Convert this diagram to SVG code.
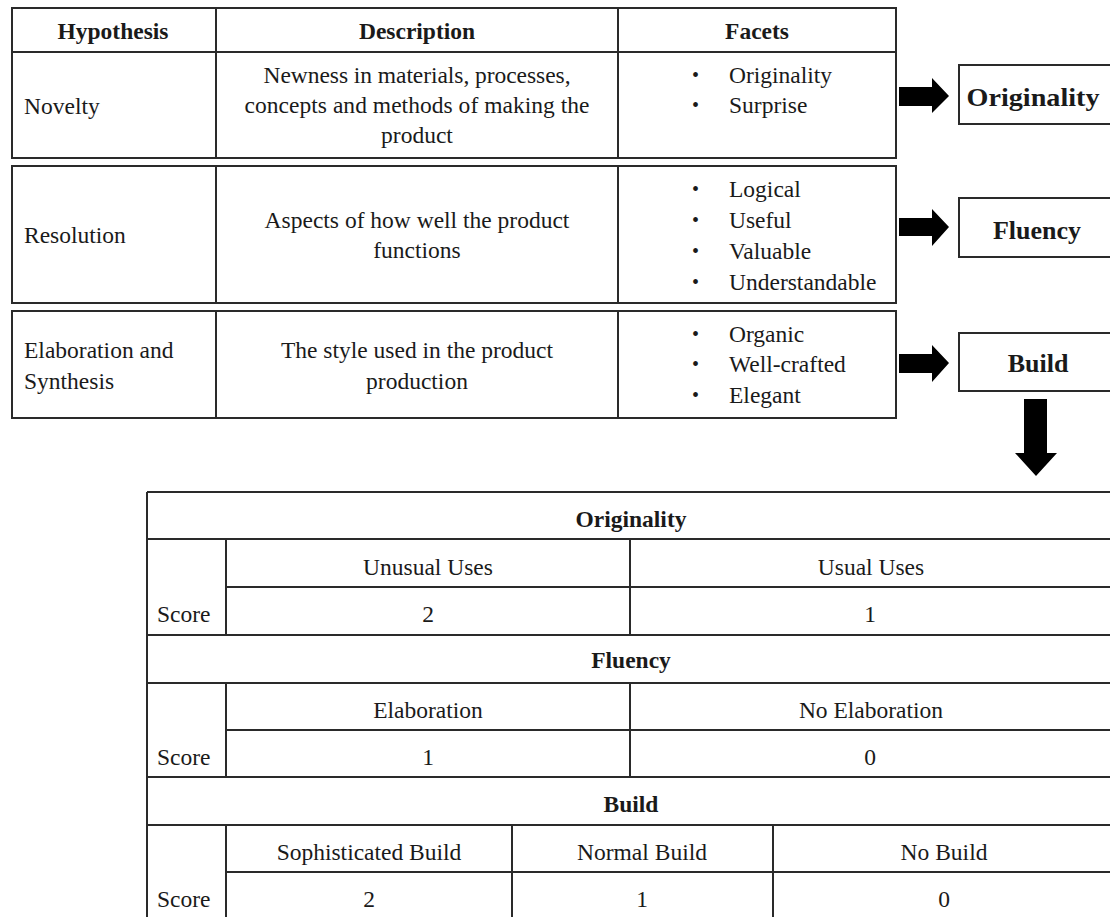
<svg xmlns="http://www.w3.org/2000/svg" width="1110" height="917" viewBox="0 0 1110 917">
<style>
.b{fill:none;stroke:#2a2a2a;stroke-width:2}
.l{stroke:#2a2a2a;stroke-width:2}
text{font-family:"Liberation Serif","Times New Roman",serif;font-size:23.5px;fill:#1a1a1a}
.h{font-weight:bold}
.c{text-anchor:middle}
.big{font-weight:bold;font-size:26px;text-anchor:middle}
.ar{fill:#000}
.d{font-size:20px}
</style>
<rect width="1110" height="917" fill="#fff"/>
<g id="row-header-novelty">
<rect class="b" x="12" y="8" width="884" height="150"/>
<line class="l" x1="12" y1="52" x2="896" y2="52"/>
<line class="l" x1="216" y1="8" x2="216" y2="158"/>
<line class="l" x1="618" y1="8" x2="618" y2="158"/>
<text class="h c" x="113" y="39">Hypothesis</text>
<text class="h c" x="417" y="39">Description</text>
<text class="h c" x="757" y="39">Facets</text>
<text x="24" y="114">Novelty</text>
<text class="c" x="417" y="83" textLength="307" lengthAdjust="spacing">Newness in materials, processes,</text>
<text class="c" x="417" y="113" textLength="345" lengthAdjust="spacing">concepts and methods of making the</text>
<text class="c" x="417" y="143">product</text>
<text class="d" x="692" y="82">•</text><text x="729" y="83">Originality</text>
<text class="d" x="692" y="112">•</text><text x="729" y="113">Surprise</text>
</g>
<g id="row-resolution">
<rect class="b" x="12" y="166" width="884" height="137"/>
<line class="l" x1="216" y1="166" x2="216" y2="303"/>
<line class="l" x1="618" y1="166" x2="618" y2="303"/>
<text x="24" y="243">Resolution</text>
<text class="c" x="417" y="228">Aspects of how well the product</text>
<text class="c" x="417" y="258">functions</text>
<text class="d" x="692" y="196">•</text><text x="729" y="197">Logical</text>
<text class="d" x="692" y="227">•</text><text x="729" y="228">Useful</text>
<text class="d" x="692" y="258">•</text><text x="729" y="259">Valuable</text>
<text class="d" x="692" y="289">•</text><text x="729" y="290">Understandable</text>
</g>
<g id="row-elaboration">
<rect class="b" x="12" y="311" width="884" height="107"/>
<line class="l" x1="216" y1="311" x2="216" y2="418"/>
<line class="l" x1="618" y1="311" x2="618" y2="418"/>
<text x="24" y="358">Elaboration and</text>
<text x="24" y="389">Synthesis</text>
<text class="c" x="417" y="358">The style used in the product</text>
<text class="c" x="417" y="389">production</text>
<text class="d" x="692" y="341">•</text><text x="729" y="342">Organic</text>
<text class="d" x="692" y="371">•</text><text x="729" y="372">Well-crafted</text>
<text class="d" x="692" y="402">•</text><text x="729" y="403">Elegant</text>
</g>
<g id="box-originality">
<rect class="b" x="959" y="65" width="160" height="59"/>
<text class="big" x="1033" y="106" textLength="133" lengthAdjust="spacingAndGlyphs">Originality</text>
</g>
<g id="box-fluency">
<rect class="b" x="959" y="198" width="160" height="59"/>
<text class="big" x="1037" y="239">Fluency</text>
</g>
<g id="box-build">
<rect class="b" x="959" y="333" width="160" height="58"/>
<text class="big" x="1038" y="372">Build</text>
</g>
<g id="connectors">
<polygon class="ar" points="899,87 932,87 932,78 949,96 932,113 932,106 899,106"/>
<polygon class="ar" points="899,218 932,218 932,209 949,227 932,246 932,236 899,236"/>
<polygon class="ar" points="899,354 932,354 932,345 949,363 932,382 932,373 899,373"/>
<polygon class="ar" points="1024,399 1047,399 1047,453 1057,453 1036,476 1015,453 1024,453"/>
</g>
<g id="score-table">
<line class="l" x1="147" y1="492" x2="1115" y2="492"/>
<line class="l" x1="147" y1="492" x2="147" y2="920"/>
<line class="l" x1="147" y1="539" x2="1115" y2="539"/>
<line class="l" x1="226" y1="587" x2="1115" y2="587"/>
<line class="l" x1="147" y1="635" x2="1115" y2="635"/>
<line class="l" x1="147" y1="683" x2="1115" y2="683"/>
<line class="l" x1="226" y1="730" x2="1115" y2="730"/>
<line class="l" x1="147" y1="777" x2="1115" y2="777"/>
<line class="l" x1="147" y1="825" x2="1115" y2="825"/>
<line class="l" x1="226" y1="872" x2="1115" y2="872"/>
<line class="l" x1="226" y1="539" x2="226" y2="635"/>
<line class="l" x1="630" y1="539" x2="630" y2="635"/>
<line class="l" x1="226" y1="683" x2="226" y2="777"/>
<line class="l" x1="630" y1="683" x2="630" y2="777"/>
<line class="l" x1="226" y1="825" x2="226" y2="920"/>
<line class="l" x1="512" y1="825" x2="512" y2="920"/>
<line class="l" x1="773" y1="825" x2="773" y2="920"/>
<text class="h c" x="631" y="527">Originality</text>
<text class="c" x="428" y="575">Unusual Uses</text>
<text class="c" x="871" y="575">Usual Uses</text>
<text x="157" y="622">Score</text>
<text class="c" x="428" y="622">2</text>
<text class="c" x="870" y="622">1</text>
<text class="h c" x="631" y="668">Fluency</text>
<text class="c" x="428" y="718">Elaboration</text>
<text class="c" x="871" y="718">No Elaboration</text>
<text x="157" y="765">Score</text>
<text class="c" x="428" y="765">1</text>
<text class="c" x="870" y="765">0</text>
<text class="h c" x="631" y="812">Build</text>
<text class="c" x="369" y="860">Sophisticated Build</text>
<text class="c" x="642" y="860">Normal Build</text>
<text class="c" x="944" y="860">No Build</text>
<text x="157" y="907">Score</text>
<text class="c" x="369" y="907">2</text>
<text class="c" x="642" y="907">1</text>
<text class="c" x="944" y="907">0</text>
</g>
</svg>
